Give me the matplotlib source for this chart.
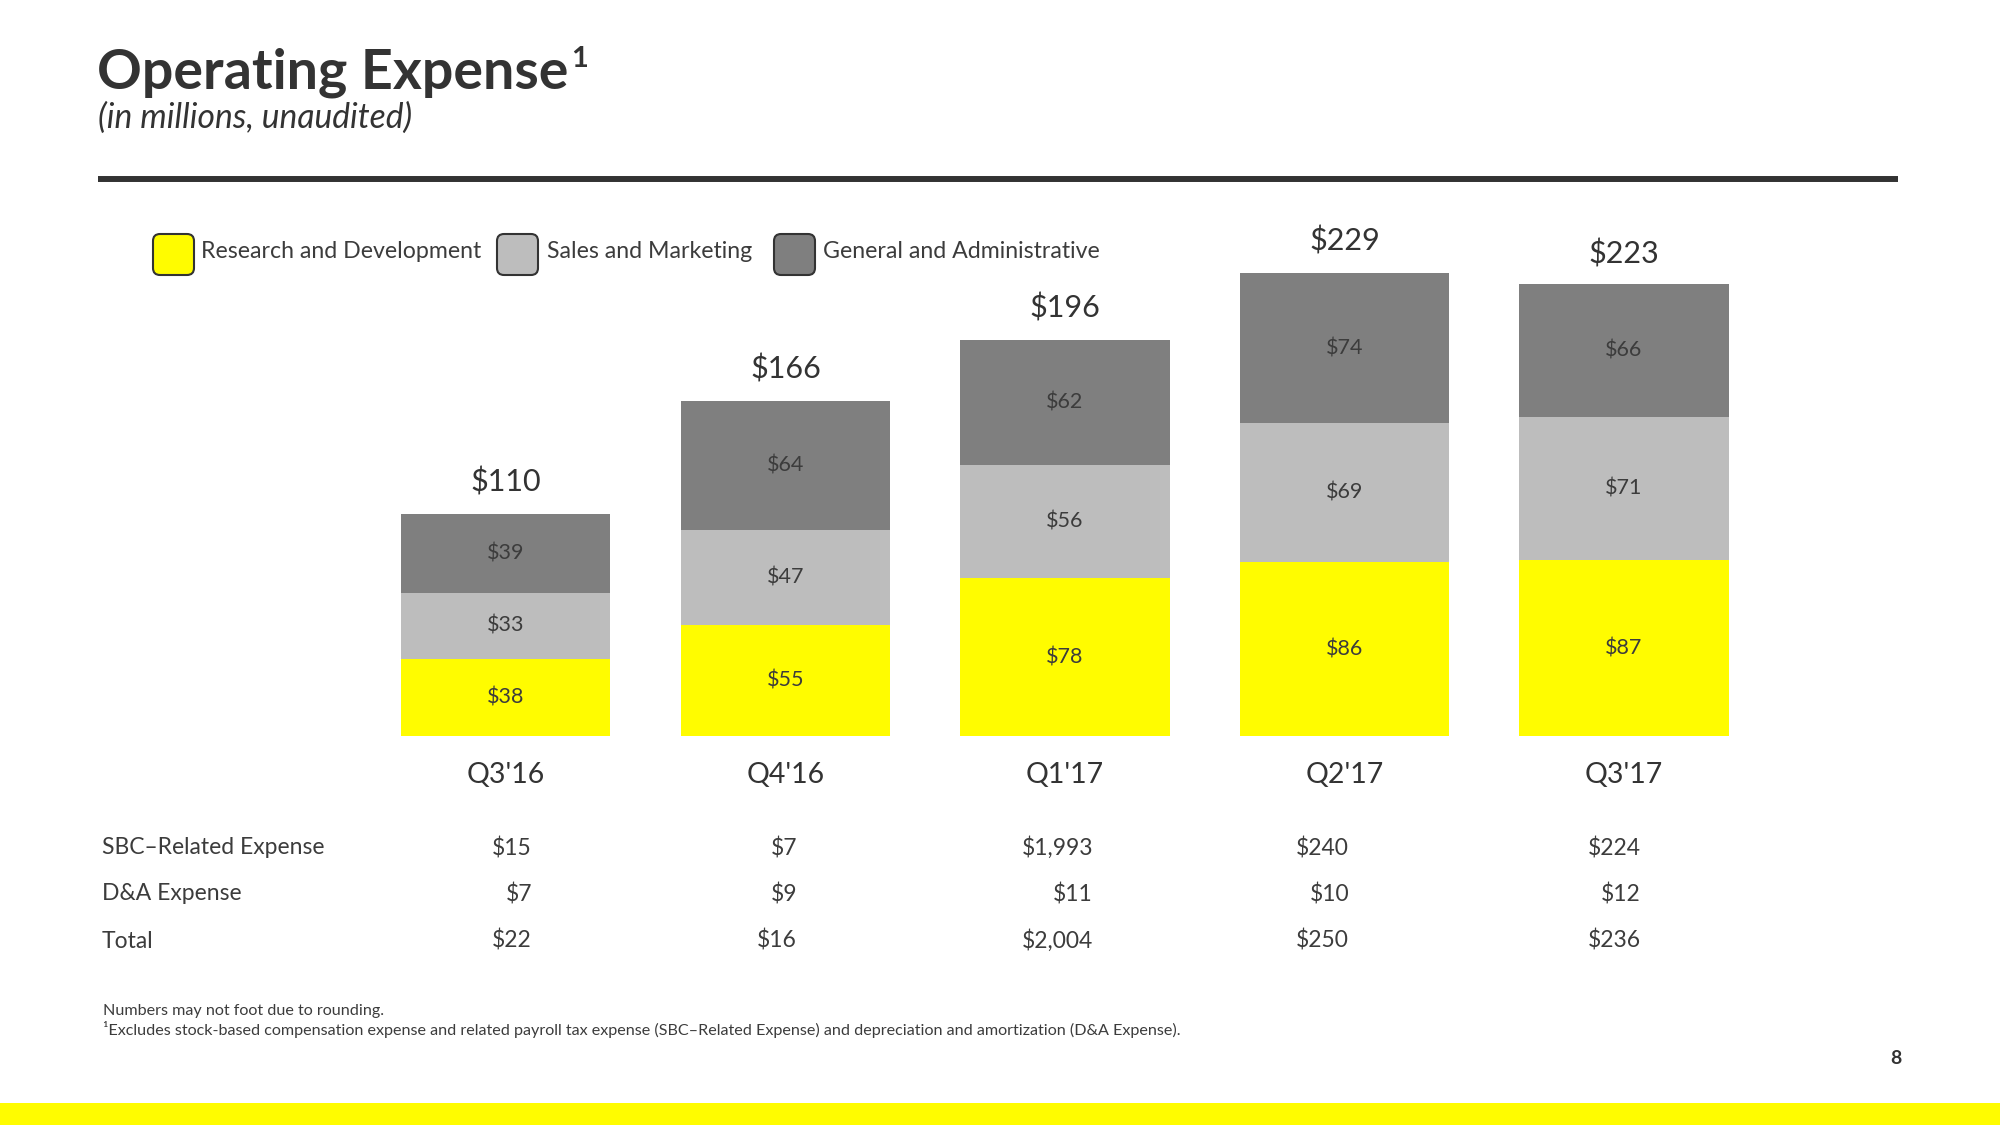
import matplotlib
matplotlib.use('Agg')
import matplotlib.pyplot as plt
from matplotlib.patches import FancyBboxPatch, Rectangle
import numpy as np

# ---------------- data ----------------
quarters = ["Q3'16", "Q4'16", "Q1'17", "Q2'17", "Q3'17"]
rd = [38, 55, 78, 86, 87]
sm = [33, 47, 56, 69, 71]
ga = [39, 64, 62, 74, 66]
totals = [110, 166, 196, 229, 223]
series_names = ["Research and Development", "Sales and Marketing", "General and Administrative"]
row_labels = ["SBC\u2013Related Expense", "D&A Expense", "Total"]
sbc_vals = ["$15", "$7", "$1,993", "$240", "$224"]
da_vals = ["$7", "$9", "$11", "$10", "$12"]
total_vals = ["$22", "$16", "$2,004", "$250", "$236"]

# ---------------- style ----------------
plt.rcParams['font.family'] = ['Lato', 'DejaVu Sans']
YELLOW = '#FFFC00'
LGRAY = '#BDBDBD'
DGRAY = '#7F7F7F'
DARK = '#333333'
TXT = '#3C3C3C'
colors = [YELLOW, LGRAY, DGRAY]

W, H = 2000, 1125
fig = plt.figure(figsize=(20, 11.25), dpi=100)

# bar axes (full figure; limits chosen so bars land where the slide puts them)
ax = fig.add_axes([0, 0, 1, 1])
ax.set_xlim(-1.81, 5.345)
ax.set_ylim(-192.6, 364.4)
ax.axis('off')

x = np.arange(len(quarters))
bw = 0.748
bottom = np.zeros(len(quarters))
for vals, c in zip([rd, sm, ga], colors):
    vals = np.array(vals, dtype=float)
    ax.bar(x, vals, bw, bottom=bottom, color=c, edgecolor='none')
    for xi, b, v in zip(x, bottom, vals):
        ax.text(xi, b + v / 2, f"${int(v)}", ha='center', va='center',
                fontsize=15.5, color=TXT)
    bottom += vals

for xi, t in zip(x, totals):
    ax.annotate(f"${t}", (xi, t), xytext=(0, 32), textcoords='offset pixels',
                ha='center', va='center', fontsize=22, color=DARK)

for xi, q in zip(x, quarters):
    ax.annotate(q, (xi, 0), xytext=(0, -39), textcoords='offset pixels',
                ha='center', va='center', fontsize=20.5, color=DARK)

# overlay axes in pixel coordinates for slide furniture
ov = fig.add_axes([0, 0, 1, 1])
ov.set_xlim(0, W)
ov.set_ylim(H, 0)
ov.axis('off')

t = ov.text(97, 89, "Operating Expense", fontsize=40, fontweight='bold',
            color=DARK, ha='left', va='baseline')
fig.canvas.draw()
bb = t.get_window_extent()
ov.text(bb.x1 + 3, 46, "1", fontsize=21, fontweight='bold', color=DARK,
        ha='left', va='top')
ov.text(98, 128, "(in millions, unaudited)", fontsize=24.2, style='italic',
        color=DARK, ha='left', va='baseline')
ov.plot([98, 1898], [179, 179], color=DARK, lw=4.3, solid_capstyle='butt')

# legend
legend_box_x = [153, 497, 774]
legend_text_x = [201, 547, 823]
for bx, tx, name, c in zip(legend_box_x, legend_text_x, series_names, colors):
    ov.add_patch(FancyBboxPatch((bx, 234), 41, 41,
                                boxstyle='round,pad=0,rounding_size=7',
                                facecolor=c, edgecolor=DARK, lw=1.5))
    ov.text(tx, 252, name, fontsize=16.7, color=TXT,
            ha='left', va='center')

# table below bars
row_y = [848, 894, 941]
col_right = [532, 797, 1093, 1349, 1641]
for ry, lab, vals in zip(row_y, row_labels, [sbc_vals, da_vals, total_vals]):
    ov.text(102, ry, lab, fontsize=16.5, color=TXT,
            ha='left', va='center')
    for cx, v in zip(col_right, vals):
        ov.text(cx, ry, v, fontsize=16.5, color=TXT,
                ha='right', va='center')

# footnotes
ov.text(103, 1011, "Numbers may not foot due to rounding.", fontsize=11.6,
        color=TXT, ha='left', va='center')
ov.text(103, 1029, "\u00b9Excludes stock-based compensation expense and related payroll tax expense "
        "(SBC\u2013Related Expense) and depreciation and amortization (D&A Expense).",
        fontsize=11.6, color=TXT, ha='left', va='center')

ov.text(1896, 1059, "8", fontsize=14, fontweight='bold', color=DARK,
        ha='center', va='center')
ov.add_patch(Rectangle((0, 1103), W, 22, facecolor=YELLOW, edgecolor='none'))

fig.savefig('out.png', dpi=100)
